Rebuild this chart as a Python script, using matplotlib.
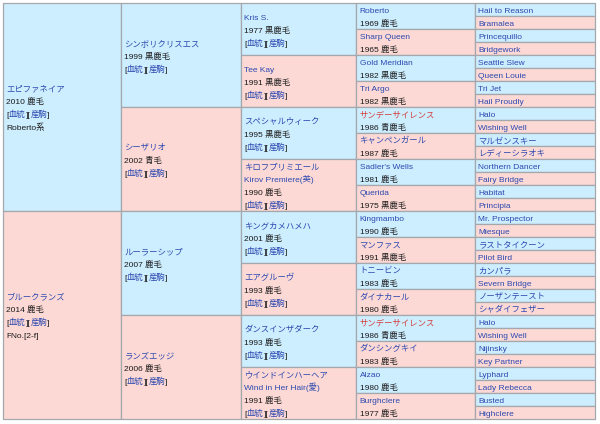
import matplotlib.pyplot as plt
from matplotlib.patches import Rectangle

plt.rcParams['font.family'] = ['Liberation Sans', 'Noto Sans CJK JP', 'DejaVu Sans']

# generation 1: sire / dam
gen1_names = ["エピファネイア", "ブルークランズ"]
gen1_info = ["2010 鹿毛", "2014 鹿毛"]
gen1_extra = ["Roberto系", "FNo.[2-f]"]

# generation 2
gen2_names = ["シンボリクリスエス", "シーザリオ", "ルーラーシップ", "ランズエッジ"]
gen2_info = ["1999 黒鹿毛", "2002 青毛", "2007 鹿毛", "2006 鹿毛"]

# generation 3 (names may have two lines)
gen3_names = [["Kris S."], ["Tee Kay"], ["スペシャルウィーク"],
              ["キロフプリミエール", "Kirov Premiere(英)"],
              ["キングカメハメハ"], ["エアグルーヴ"], ["ダンスインザダーク"],
              ["ウインドインハーヘア", "Wind in Her Hair(愛)"]]
gen3_info = ["1977 黒鹿毛", "1991 黒鹿毛", "1995 黒鹿毛", "1990 鹿毛",
             "2001 鹿毛", "1993 鹿毛", "1993 鹿毛", "1991 鹿毛"]

# generation 4
gen4_names = ["Roberto", "Sharp Queen", "Gold Meridian", "Tri Argo",
              "サンデーサイレンス", "キャンペンガール", "Sadler's Wells", "Querida",
              "Kingmambo", "マンファス", "トニービン", "ダイナカール",
              "サンデーサイレンス", "ダンシングキイ", "Alzao", "Burghclere"]
gen4_info = ["1969 鹿毛", "1965 鹿毛", "1982 黒鹿毛", "1982 黒鹿毛",
             "1986 青鹿毛", "1987 鹿毛", "1981 鹿毛", "1975 黒鹿毛",
             "1990 鹿毛", "1991 黒鹿毛", "1983 鹿毛", "1980 鹿毛",
             "1986 青鹿毛", "1983 鹿毛", "1980 鹿毛", "1977 鹿毛"]
gen4_cross = ["サンデーサイレンス"]

# generation 5
gen5_names = ["Hail to Reason", "Bramalea", "Princequillo", "Bridgework",
              "Seattle Slew", "Queen Louie", "Tri Jet", "Hail Proudly",
              "Halo", "Wishing Well", "マルゼンスキー", "レディーシラオキ",
              "Northern Dancer", "Fairy Bridge", "Habitat", "Principia",
              "Mr. Prospector", "Miesque", "ラストタイクーン", "Pilot Bird",
              "カンパラ", "Severn Bridge", "ノーザンテースト", "シャダイフェザー",
              "Halo", "Wishing Well", "Nijinsky", "Key Partner",
              "Lyphard", "Lady Rebecca", "Busted", "Highclere"]

BLUE_BG = "#cdeeff"
PINK_BG = "#fcd9d5"
EDGE = "#a4a8ad"
LINK = "#2c48b0"
RED = "#d43c3c"
TXT = "#1a1a1a"
FS = 6.0

col_x = [3, 121, 241, 356, 475, 595]
top, bottom = 3, 419
lh = 12.8
base = 3.7  # baseline offset below the line centre (px)

fig = plt.figure(figsize=(6, 4.24), dpi=100)
ax = fig.add_axes([0, 0, 1, 1])
ax.set_xlim(0, 600)
ax.set_ylim(424, 0)
ax.axis('off')
renderer = fig.canvas.get_renderer()


def link_line(x, y):
    for s, c in [("[", TXT), ("血統", LINK), ("][", TXT), ("産駒", LINK), ("]", TXT)]:
        t = ax.text(x, y, s, color=c, fontsize=FS, va='baseline', ha='left')
        x += t.get_window_extent(renderer).width


def cell(col, idx, n, lines):
    h = (bottom - top) / n
    y0 = top + idx * h
    x0 = col_x[col]
    w = col_x[col + 1] - x0
    ax.add_patch(Rectangle((x0, y0), w, h,
                           facecolor=BLUE_BG if idx % 2 == 0 else PINK_BG,
                           edgecolor=EDGE, lw=0.9))
    c = y0 + h / 2 + base
    for i, (s, color) in enumerate(lines):
        y = c + (i - (len(lines) - 1) / 2) * lh
        if s == "LINKS":
            link_line(x0 + 3.5, y)
        else:
            ax.text(x0 + 3.5, y, s, color=color, fontsize=FS,
                    va='baseline', ha='left')


for i in range(2):
    cell(0, i, 2, [(gen1_names[i], LINK), (gen1_info[i], TXT),
                   ("LINKS", None), (gen1_extra[i], TXT)])
for i in range(4):
    cell(1, i, 4, [(gen2_names[i], LINK), (gen2_info[i], TXT), ("LINKS", None)])
for i in range(8):
    cell(2, i, 8, [(s, LINK) for s in gen3_names[i]]
         + [(gen3_info[i], TXT), ("LINKS", None)])
for i in range(16):
    nm = gen4_names[i]
    cell(3, i, 16, [(nm, RED if nm in gen4_cross else LINK), (gen4_info[i], TXT)])
for i in range(32):
    cell(4, i, 32, [(gen5_names[i], LINK)])

fig.savefig("out.png", dpi=100, facecolor="white")
